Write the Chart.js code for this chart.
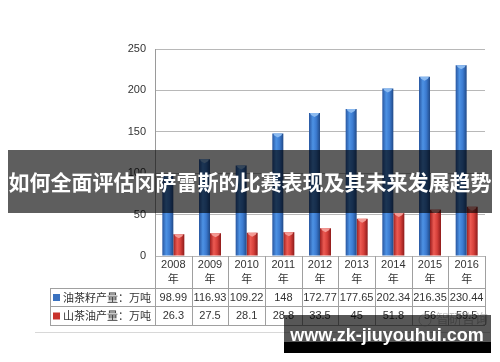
<!DOCTYPE html>
<html>
<head>
<meta charset="utf-8">
<script src="https://cdn.jsdelivr.net/npm/chart.js@4/dist/chart.umd.min.js"></script>
<style>
  html, body { margin: 0; padding: 0; background: #fff; }
  #wrap { width: 500px; height: 362px; position: relative; }
</style>
</head>
<body>
<div id="wrap"><canvas id="chart"></canvas></div>
<script>
// data
const years = ['2008', '2009', '2010', '2011', '2012', '2013', '2014', '2015', '2016'];
const seedOutput = [98.99, 116.93, 109.22, 148, 172.77, 177.65, 202.34, 216.35, 230.44];
const oilOutput = [26.3, 27.5, 28.1, 28.8, 33.5, 45, 51.8, 56, 59.5];
const seriesNames = ['油茶籽产量：万吨', '山茶油产量：万吨'];
const yTicks = [0, 50, 100, 150, 200, 250];
const titleText = '如何全面评估冈萨雷斯的比赛表现及其未来发展趋势';
const siteText = 'www.zk-jiuyouhui.com';

const CJK = '"Noto Sans CJK SC", "Noto Sans", sans-serif';
const LAT = '"Liberation Sans", Arial, sans-serif';

const palettes = [
    { stops: ['#2856a0', '#4d92e4', '#3c7bd0', '#214a88'], cap: '#8bbaf0', key: '#3a72c0' },
    { stops: ['#9c1f1f', '#ec5a52', '#d6403a', '#8e1a1a'], cap: '#f39a94', key: '#c8322c' }
];

// horizontal gradient so the bars look like the rounded 3D bars
function barFill(dsIndex) {
    return (ctx) => {
        const chart = ctx.chart;
        const pal = palettes[dsIndex];
        if (!chart.chartArea || !chart.scales.x) return pal.stops[2];
        const xs = chart.scales.x;
        const meta = chart.getDatasetMeta(dsIndex);
        const el = meta.data[ctx.dataIndex];
        let cx, w;
        if (el && el.width) { cx = el.x; w = el.width; }
        else {
            const slot = (xs.getPixelForValue(1) - xs.getPixelForValue(0)) * 0.6 / 2;
            cx = xs.getPixelForValue(ctx.dataIndex) + (dsIndex === 0 ? -slot / 2 : slot / 2);
            w = slot;
        }
        const g = chart.ctx.createLinearGradient(cx - w / 2, 0, cx + w / 2, 0);
        g.addColorStop(0, pal.stops[0]);
        g.addColorStop(0.35, pal.stops[1]);
        g.addColorStop(0.65, pal.stops[2]);
        g.addColorStop(1, pal.stops[3]);
        return g;
    };
}

// light top caps on every bar
const capPlugin = {
    id: 'caps',
    afterDatasetsDraw(chart) {
        const c = chart.ctx;
        chart.data.datasets.forEach((ds, i) => {
            chart.getDatasetMeta(i).data.forEach(bar => {
                const l = bar.x - bar.width / 2, r = bar.x + bar.width / 2;
                c.save();
                c.fillStyle = palettes[i].cap;
                c.beginPath();
                c.moveTo(l + 1, bar.y);
                c.lineTo(r - 1, bar.y);
                c.lineTo(r - 2, bar.y + 2);
                c.lineTo(bar.x, bar.y + 4);
                c.lineTo(l + 2, bar.y + 2);
                c.closePath();
                c.fill();
                c.restore();
            });
        });
    }
};

// data table under the plot, then the overlays
const tablePlugin = {
    id: 'table',
    afterDraw(chart) {
        const c = chart.ctx;
        const xs = chart.scales.x;
        const area = chart.chartArea;
        const half = (xs.getPixelForValue(1) - xs.getPixelForValue(0)) / 2;
        const top = area.bottom, r1 = top + 32, r2 = r1 + 18, r3 = r2 + 19;
        const labelLeft = 50;

        c.save();
        c.strokeStyle = '#a0a0a0';
        c.lineWidth = 1;
        c.beginPath();
        c.moveTo(labelLeft, r1 + 0.5); c.lineTo(area.right, r1 + 0.5);
        c.moveTo(labelLeft, r2 + 0.5); c.lineTo(area.right, r2 + 0.5);
        c.moveTo(labelLeft, r3 + 0.5); c.lineTo(area.right, r3 + 0.5);
        c.moveTo(labelLeft + 0.5, r1); c.lineTo(labelLeft + 0.5, r3);
        c.moveTo(area.left + 0.5, top); c.lineTo(area.left + 0.5, r3);
        years.forEach((y, i) => {
            const xr = Math.round(xs.getPixelForValue(i) + half) + 0.5;
            c.moveTo(xr, top); c.lineTo(xr, r3);
        });
        c.stroke();

        c.fillStyle = '#333';
        c.textAlign = 'center';
        c.textBaseline = 'middle';
        years.forEach((y, i) => {
            const x = xs.getPixelForValue(i);
            c.font = '11px ' + LAT;
            c.fillText(y, x, top + 9);
            c.font = '11px ' + CJK;
            c.fillText('年', x, top + 23);
            c.font = '11px ' + LAT;
            c.fillText(String(seedOutput[i]), x, r1 + 9.5);
            c.fillText(String(oilOutput[i]), x, r2 + 10);
        });

        c.textAlign = 'left';
        c.font = '11px ' + CJK;
        [r1 + 9.5, r2 + 10].forEach((ym, i) => {
            c.fillStyle = palettes[i].key;
            c.fillRect(53, ym - 3.5, 7, 7);
            c.fillStyle = '#333';
            c.fillText(seriesNames[i], 63, ym);
        });

        // faint source mark
        c.fillStyle = 'rgba(150,150,150,0.55)';
        c.font = '13px ' + CJK;
        c.fillText('智研咨询', 436, 318);
        c.strokeStyle = 'rgba(170,170,170,0.6)';
        c.beginPath();
        c.arc(425, 320, 6, 0, Math.PI * 2);
        c.stroke();

        // bottom rule
        c.strokeStyle = '#d8d8d8';
        c.beginPath();
        c.moveTo(35, 332.5); c.lineTo(490, 332.5);
        c.stroke();

        // title band
        c.fillStyle = 'rgba(0,0,0,0.63)';
        c.fillRect(8, 150, 484, 63);
        c.fillStyle = '#fff';
        c.textAlign = 'center';
        c.font = 'bold 21px ' + CJK;
        c.fillText(titleText, 250, 182);

        // site band
        c.fillStyle = 'rgba(0,0,0,0.66)';
        c.fillRect(284, 315, 207, 27);
        c.fillStyle = '#000';
        c.fillRect(284, 342, 207, 11);
        c.fillStyle = '#fff';
        c.font = 'bold 18px ' + LAT;
        c.fillText(siteText, 387, 336);
        c.restore();
    }
};

new Chart(document.getElementById('chart'), {
    type: 'bar',
    data: {
        labels: years,
        datasets: [
            { label: seriesNames[0], data: seedOutput, backgroundColor: barFill(0) },
            { label: seriesNames[1], data: oilOutput, backgroundColor: barFill(1) }
        ]
    },
    options: {
        responsive: true,
        maintainAspectRatio: false,
        animation: false,
        layout: { padding: { left: 0, top: 49, right: 15, bottom: 106 } },
        datasets: { bar: { categoryPercentage: 0.6, barPercentage: 1 } },
        plugins: { legend: { display: false }, tooltip: { enabled: false } },
        scales: {
            x: { display: false },
            y: {
                min: 0,
                max: 250,
                afterFit: scale => { scale.width = 155; },
                afterBuildTicks: scale => { scale.ticks = yTicks.map(v => ({ value: v })); },
                border: { color: '#9a9a9a' },
                grid: { color: '#b8b8b8', drawTicks: false },
                ticks: {
                    padding: 9,
                    color: '#333',
                    font: { family: LAT, size: 11 }
                }
            }
        }
    },
    plugins: [capPlugin, tablePlugin]
});
</script>
</body>
</html>
